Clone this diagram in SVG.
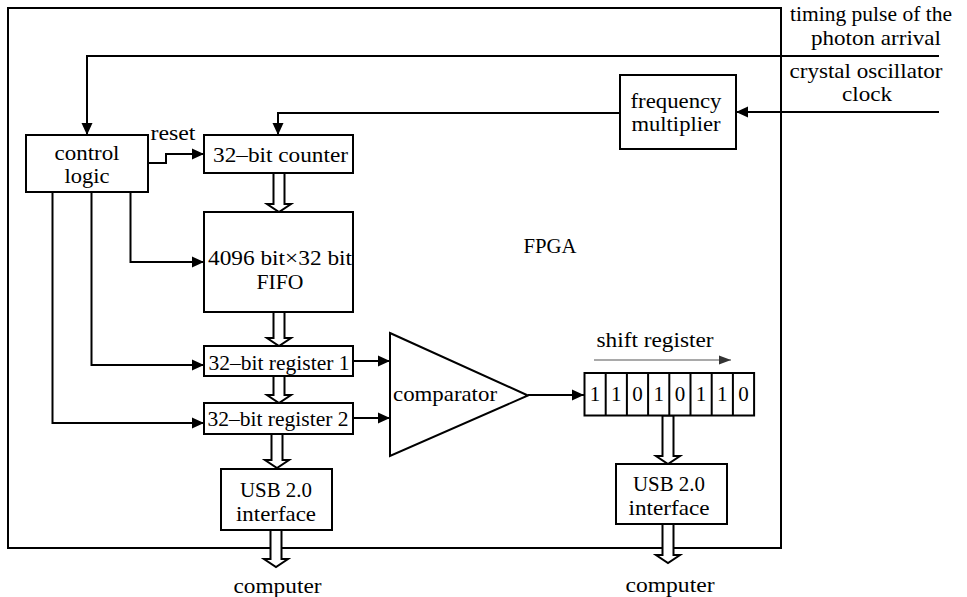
<svg xmlns="http://www.w3.org/2000/svg" width="967" height="597" viewBox="0 0 967 597">
<style>
.t{font-family:'Liberation Serif','DejaVu Serif',serif;font-size:21px;fill:#000;text-anchor:middle}
.b{fill:#fff;stroke:#000;stroke-width:2}
.c{fill:none;stroke:#000;stroke-width:2}
.h{fill:#fff;stroke:#000;stroke-width:2;stroke-linejoin:miter}
.thin{fill:none;stroke:#555;stroke-width:1.2}
</style>
<defs>
<marker id="ah" markerUnits="userSpaceOnUse" markerWidth="12" markerHeight="12" refX="12" refY="6" orient="auto">
<path d="M0,0.5 L12,6 L0,11.5 z" fill="#000"/>
</marker>
<marker id="ahs" markerUnits="userSpaceOnUse" markerWidth="12" markerHeight="10" refX="12" refY="5" orient="auto">
<path d="M0,0.5 L12,5 L0,9.5 z" fill="#333"/>
</marker>
</defs>
<rect width="967" height="597" fill="#fff"/>

<g id="fpga">
<rect x="8" y="8" width="773" height="540" class="c"/>
<text class="t" x="550" y="253" textLength="53" lengthAdjust="spacingAndGlyphs">FPGA</text>
</g>

<g id="inputs-labels">
<text class="t" x="871" y="21" textLength="162" lengthAdjust="spacingAndGlyphs">timing pulse of the</text>
<text class="t" x="876" y="45" textLength="130" lengthAdjust="spacingAndGlyphs">photon arrival</text>
<text class="t" x="866" y="78" textLength="153" lengthAdjust="spacingAndGlyphs">crystal oscillator</text>
<text class="t" x="867" y="101" textLength="50" lengthAdjust="spacingAndGlyphs">clock</text>
</g>

<g id="connectors">
<polyline class="c" points="939,56 87,56 87,135" marker-end="url(#ah)"/>
<polyline class="c" points="939,112 736,112" marker-end="url(#ah)"/>
<polyline class="c" points="620,113 278,113 278,135" marker-end="url(#ah)"/>
<polyline class="c" points="148,163 166,163 166,154 204,154" marker-end="url(#ah)"/>
<polyline class="c" points="130.5,192 130.5,262 204,262" marker-end="url(#ah)"/>
<polyline class="c" points="91.5,192 91.5,365 204,365" marker-end="url(#ah)"/>
<polyline class="c" points="52.5,192 52.5,423 204,423" marker-end="url(#ah)"/>
<line class="c" x1="353" y1="361" x2="390" y2="361" marker-end="url(#ah)"/>
<line class="c" x1="353" y1="418" x2="390" y2="418" marker-end="url(#ah)"/>
<line class="c" x1="528" y1="395" x2="584" y2="395" marker-end="url(#ah)"/>
<line class="thin" x1="594" y1="360" x2="731" y2="360" marker-end="url(#ahs)"/>
<text class="t" x="173" y="140" textLength="45" lengthAdjust="spacingAndGlyphs">reset</text>
<text class="t" x="655" y="347" textLength="117" lengthAdjust="spacingAndGlyphs">shift register</text>
<polygon class="h" points="273.5,173 284.5,173 284.5,204 291,204 279,212 267,204 273.5,204"/>
<polygon class="h" points="273.5,312 284.5,312 284.5,338 291,338 279,346 267,338 273.5,338"/>
<polygon class="h" points="273.5,376 284.5,376 284.5,395 291,395 279,403 267,395 273.5,395"/>
<polygon class="h" points="271.5,434 282.5,434 282.5,460 289,460 277,468 265,460 271.5,460"/>
<polygon class="h" points="270.5,530 281.5,530 281.5,559 288,559 276,567 264,559 270.5,559"/>
<polygon class="h" points="662.5,415.5 673.5,415.5 673.5,456 680,456 668,464 656,456 662.5,456"/>
<polygon class="h" points="662.5,524 673.5,524 673.5,555 680,555 668,563 656,555 662.5,555"/>
</g>

<g id="control-logic">
<rect x="26" y="135" width="122" height="57" class="b"/>
<text class="t" x="87" y="160" textLength="65" lengthAdjust="spacingAndGlyphs">control</text>
<text class="t" x="87" y="183" textLength="45" lengthAdjust="spacingAndGlyphs">logic</text>
</g>

<g id="counter">
<rect x="204" y="135" width="149" height="38" class="b"/>
<text class="t" x="280.5" y="162" textLength="135" lengthAdjust="spacingAndGlyphs">32–bit counter</text>
</g>

<g id="freq-multiplier">
<rect x="620" y="75" width="116" height="74" class="b"/>
<text class="t" x="676" y="108" textLength="91" lengthAdjust="spacingAndGlyphs">frequency</text>
<text class="t" x="676" y="131" textLength="89" lengthAdjust="spacingAndGlyphs">multiplier</text>
</g>

<g id="fifo">
<rect x="204" y="212" width="149" height="100" class="b"/>
<text class="t" x="280" y="265" textLength="144" lengthAdjust="spacingAndGlyphs">4096 bit×32 bit</text>
<text class="t" x="280" y="289" textLength="47" lengthAdjust="spacingAndGlyphs">FIFO</text>
</g>

<g id="register1">
<rect x="204" y="346" width="149" height="30" class="b"/>
<text class="t" x="279" y="370" textLength="141" lengthAdjust="spacingAndGlyphs">32–bit register 1</text>
</g>

<g id="register2">
<rect x="204" y="403" width="149" height="31" class="b"/>
<text class="t" x="278" y="426" textLength="141" lengthAdjust="spacingAndGlyphs">32–bit register 2</text>
</g>

<g id="comparator">
<polygon class="b" points="390,333 528,395.5 390,456"/>
<text class="t" x="445" y="401" textLength="104" lengthAdjust="spacingAndGlyphs">comparator</text>
</g>

<g id="shift-register">
<rect x="584.5" y="373" width="169.6" height="42.5" class="b"/>
<path class="c" d="M605.7,373V415.5M626.9,373V415.5M648.1,373V415.5M669.3,373V415.5M690.5,373V415.5M711.7,373V415.5M732.9,373V415.5"/>
<text class="t" x="595.1" y="401">1</text>
<text class="t" x="616.3" y="401">1</text>
<text class="t" x="637.5" y="401">0</text>
<text class="t" x="658.7" y="401">1</text>
<text class="t" x="679.9" y="401">0</text>
<text class="t" x="701.1" y="401">1</text>
<text class="t" x="722.3" y="401">1</text>
<text class="t" x="743.5" y="401">0</text>
</g>

<g id="usb1">
<rect x="221" y="469" width="111" height="61" class="b"/>
<text class="t" x="276" y="497" textLength="72" lengthAdjust="spacingAndGlyphs">USB 2.0</text>
<text class="t" x="276" y="521" textLength="80" lengthAdjust="spacingAndGlyphs">interface</text>
</g>

<g id="usb2">
<rect x="616" y="464" width="111" height="60" class="b"/>
<text class="t" x="669" y="491" textLength="72" lengthAdjust="spacingAndGlyphs">USB 2.0</text>
<text class="t" x="669" y="515" textLength="81" lengthAdjust="spacingAndGlyphs">interface</text>
</g>

<g id="computer1">
<text class="t" x="277.5" y="593" textLength="88" lengthAdjust="spacingAndGlyphs">computer</text>
</g>
<g id="computer2">
<text class="t" x="670" y="592" textLength="89" lengthAdjust="spacingAndGlyphs">computer</text>
</g>
</svg>
